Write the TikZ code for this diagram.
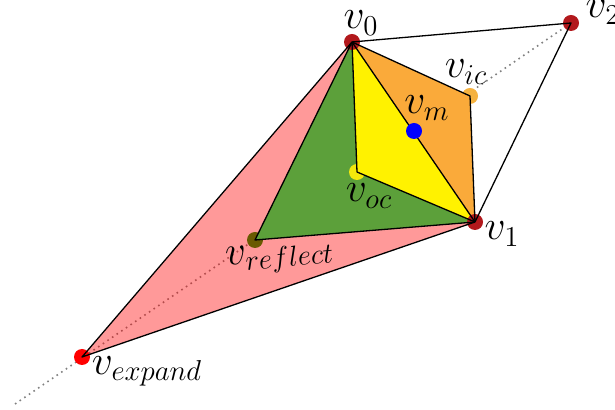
\documentclass[tikz,border=0pt]{standalone}
\usetikzlibrary{positioning}
\definecolor{dotred}{RGB}{178,24,28}
\definecolor{pinkfill}{RGB}{255,0,0}
\definecolor{greenfill}{RGB}{92,160,58}
\definecolor{orangefill}{RGB}{250,170,58}
\definecolor{icdot}{RGB}{245,178,64}
\definecolor{refdot}{RGB}{5,150,0}
\begin{document}
\begin{tikzpicture}[x=0.5pt,y=-0.5pt,line join=round,
  edge/.style={black,line width=0.65pt},
  pt/.style={circle,inner sep=0pt,minimum size=8pt},
  lbl/.style={font=\huge,inner sep=0pt}]
  \useasboundingbox (0,0) rectangle (615,410);
  % simplex points
  \coordinate (v0) at (352,42);
  \coordinate (v1) at (475,222);
  \coordinate (v2) at (571,23);
  \coordinate (vm) at (414,131);
  \coordinate (vic) at (470,96);
  \coordinate (voc) at (357,172);
  \coordinate (vref) at (255,240);
  \coordinate (vexp) at (82,357);
  \coordinate (tail) at (15,404);
  % search line
  \draw[gray,dotted,thick] (tail) -- (v2);
  % expansion
  \node[pt,fill=red] (dexp) at (vexp) {};
  \node[pt,fill=refdot] (dref) at (vref) {};
  \fill[pinkfill,fill opacity=0.4] (v0) -- (vexp) -- (v1) -- cycle;
  % reflection
  \fill[greenfill] (v0) -- (vref) -- (v1) -- cycle;
  % outside contraction
  \node[pt,fill=yellow!95!black] (doc) at (voc) {};
  \fill[yellow] (v0) -- (voc) -- (v1) -- cycle;
  % inside contraction
  \node[pt,fill=icdot] (dic) at (vic) {};
  \fill[orangefill] (v0) -- (vic) -- (v1) -- cycle;
  % vertices
  \node[pt,fill=dotred] (d0) at (v0) {};
  \node[pt,fill=dotred] (d1) at (v1) {};
  \node[pt,fill=dotred] (d2) at (v2) {};
  % edges
  \draw[edge] (v0) -- (vexp) -- (v1);
  \draw[edge] (v0) -- (vref) -- (v1);
  \draw[edge] (v0) -- (voc) -- (v1);
  \draw[edge] (v0) -- (vic) -- (v1);
  \draw[edge] (v0) -- (v1);
  \draw[edge] (v0) -- (v2) -- (v1);
  \node[pt,fill=blue] (dm) at (vm) {};
  % labels
  \node[lbl] (l0) at (361,23) {$v_0$};
  \node[lbl] (l1) at (502,234) {$v_1$};
  \node[lbl] (l2) at (603,12) {$v_2$};
  \node[lbl] (lm) at (427,108) {$v_m$};
  \node[lbl] (lic) at (466,72) {$v_{ic}$};
  \node[lbl] (loc) at (369,196) {$v_{oc}$};
  \node[lbl,rotate=5] (lref) at (280,258) {$v_{reflect}$};
  \node[lbl] (lexp) at (147,371) {$v_{expand}$};
\end{tikzpicture}
\end{document}
